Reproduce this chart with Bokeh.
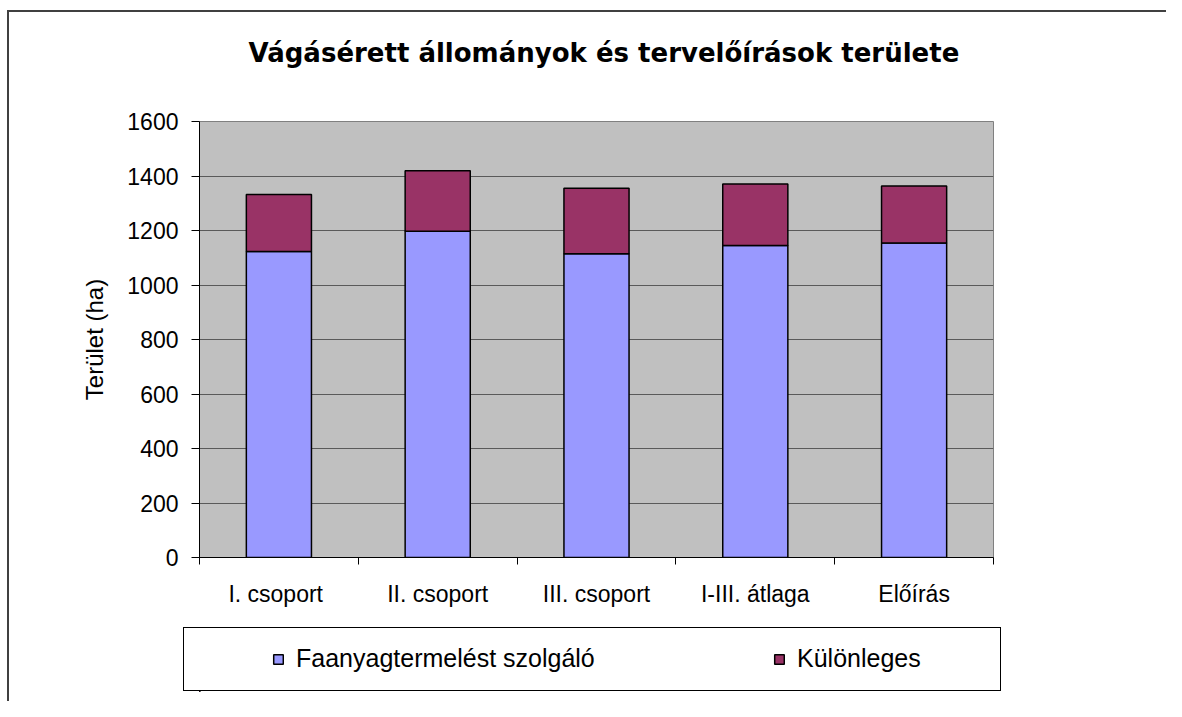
from bokeh.plotting import figure
from bokeh.layouts import column
from bokeh.models import (Range1d, FixedTicker, Legend, LegendItem, ColumnDataSource, Title)
from bokeh.embed import file_html
from bokeh.resources import INLINE

# ---- data ----
categories = ["I.  csoport", "II. csoport", "III. csoport", "I-III. átlaga", "Előírás"]
faanyag = [1123, 1197, 1115, 1145, 1154]
kulonleges = [209, 222, 240, 226, 209]
series_names = ["Faanyagtermelést szolgáló", "Különleges"]
series_colors = ["#9999FF", "#993366"]
y_ticks = [0, 200, 400, 600, 800, 1000, 1200, 1400, 1600]
title_text = "Vágásérett állományok és tervelőírások területe"
y_label = "Terület (ha)"

x_pos = list(range(len(categories)))
source = ColumnDataSource(dict(x=x_pos, faanyag=faanyag, kulonleges=kulonleges))
stack_cols = ["faanyag", "kulonleges"]

W = 1166
H1, H2 = 620, 81
FONT = "Liberation Sans"

# ---------------- main chart ----------------
p = figure(width=W, height=H1, output_backend="svg", toolbar_location=None,
           x_range=Range1d(-0.5, len(categories) - 0.5),
           y_range=Range1d(y_ticks[0], y_ticks[-1]),
           min_border_left=199, min_border_right=W - 993,
           min_border_top=121, min_border_bottom=H1 - 557,
           background_fill_color="#C0C0C0", border_fill_alpha=0,
           outline_line_color="#808080", outline_line_width=1)

renderers = p.vbar_stack(stack_cols, x="x", width=0.41, source=source,
                         fill_color=series_colors, line_color="black", line_width=1.5)

# blank spacer between frame and title (pushes the title up)
p.add_layout(Title(text="\u00a0", text_font_size="10px", standoff=36), "above")

p.title.text = title_text
p.title.align = "left"
p.title.offset = 49
p.title.standoff = 10
p.title.text_font = "DejaVu Sans"
p.title.text_font_style = "bold"
p.title.text_font_size = "26px"
p.title.text_color = "black"

xa = p.xaxis[0]
xa.ticker = FixedTicker(ticks=x_pos,
                        minor_ticks=[i - 0.5 for i in range(len(categories) + 1)])
xa.major_label_overrides = {i: c for i, c in enumerate(categories)}
xa.major_tick_line_color = None
xa.major_tick_out = 0
xa.major_tick_in = 0
xa.minor_tick_out = 7
xa.minor_tick_in = 0
xa.minor_tick_line_color = "black"
xa.axis_line_color = "black"
xa.major_label_text_font = FONT
xa.major_label_text_font_size = "23px"
xa.major_label_text_color = "black"
xa.major_label_standoff = 16

ya = p.yaxis[0]
ya.ticker = FixedTicker(ticks=y_ticks)
ya.major_tick_out = 8
ya.major_tick_in = 0
ya.major_tick_line_color = "black"
ya.minor_tick_line_color = None
ya.axis_line_color = "black"
ya.major_label_text_font = FONT
ya.major_label_text_font_size = "23px"
ya.major_label_text_color = "black"
ya.major_label_standoff = 13
ya.axis_label = y_label
ya.axis_label_text_font = FONT
ya.axis_label_text_font_size = "24px"
ya.axis_label_text_font_style = "normal"
ya.axis_label_text_color = "black"
ya.axis_label_standoff = 16

p.xgrid.grid_line_color = None
p.ygrid.grid_line_color = "#5a5a5a"
p.ygrid.grid_line_width = 1

# ---------------- legend strip ----------------
# same stacked series on ranges just outside the data (clipped away) - only the legend swatches show
lg = figure(width=W, height=H2, output_backend="svg", toolbar_location=None,
            x_axis_type=None, y_axis_type=None,
            x_range=Range1d(10, 110), y_range=Range1d(2000, 3000),
            min_border_left=199, min_border_right=W - 993,
            min_border_top=627 - H1, min_border_bottom=H1 + H2 - 691,
            background_fill_alpha=0, border_fill_alpha=0, outline_line_color=None)
swatches = lg.vbar_stack(stack_cols, x="x", width=0.41, source=source,
                         fill_color=series_colors, line_color="black", line_width=1.5)
legend = Legend(items=[LegendItem(label=series_names[i], renderers=[swatches[i]])
                       for i in range(len(series_names))],
                location=(73, 18), orientation="horizontal",
                glyph_width=12, glyph_height=12, label_standoff=12,
                label_width=477, spacing=0, padding=0, margin=0,
                border_line_alpha=0, background_fill_alpha=0,
                label_text_font=FONT, label_text_font_size="25px",
                label_text_color="black")
lg.add_layout(legend, "center")

layout = column(p, lg, spacing=0)
# chart frame (left/top edges) and legend frame, painted behind the transparent canvas borders
g = "linear-gradient({c},{c}) {x}px {y}px / {w} {h} no-repeat"
layout.styles = {
    "background": ", ".join([
        g.format(c="#404040", x=7, y=10, w="2px", h="calc(100% - 10px)"),
        g.format(c="#404040", x=7, y=10, w="calc(100% - 7px)", h="2px"),
        g.format(c="#000000", x=183, y=627, w="818px", h="1px"),
        g.format(c="#000000", x=183, y=690, w="818px", h="1px"),
        g.format(c="#000000", x=183, y=627, w="1px", h="64px"),
        g.format(c="#000000", x=1000, y=627, w="1px", h="64px"),
        "white",
    ])
}

open("out.html", "w").write(file_html(layout, INLINE))
